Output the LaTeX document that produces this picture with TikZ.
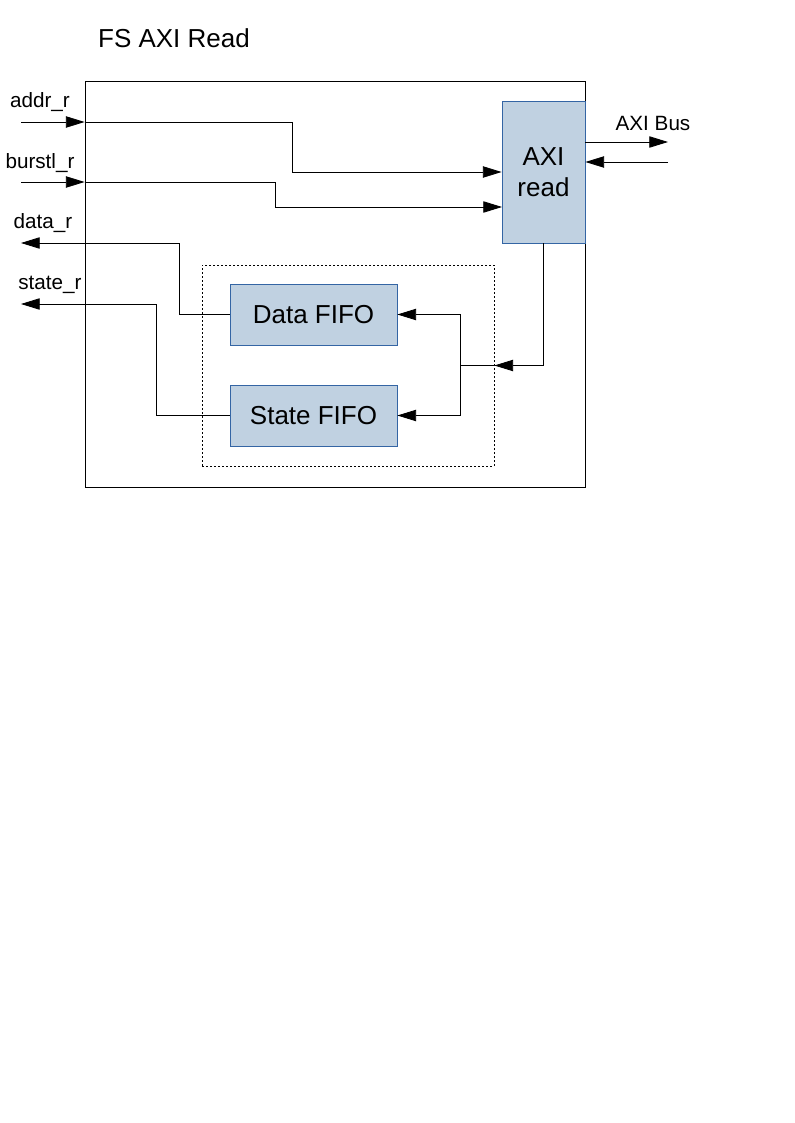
\documentclass[tikz,border=0pt]{standalone}
\usepackage{fontspec}
\setmainfont{Liberation Sans}
\usetikzlibrary{arrows.meta}
\definecolor{blockfill}{RGB}{192,209,225}
\definecolor{blockline}{RGB}{52,101,164}

\begin{document}
\begin{tikzpicture}[x=0.75pt,y=-0.75pt,line width=0.6pt,
  >={Triangle[length=14pt,width=8.5pt]},
  block/.style={rectangle,draw=blockline,fill=blockfill,inner sep=0pt,
    font=\fontsize{19.5}{23}\selectfont,align=center},
  port/.style={font=\fontsize{15.5}{18}\selectfont}]
\useasboundingbox (0,0) rectangle (794,1123);
\node[font=\fontsize{19.5}{23}\selectfont](title) at (174,38){FS AXI Read};
\node[rectangle,draw = black,minimum width=375pt,minimum height=304.5pt](fsread) at (335,284){};
\node[block,minimum width=62.25pt,minimum height=106.5pt](axiread) at (543.5,172){AXI\\read};
\node[rectangle,draw = black,dash pattern=on 1.5pt off 1.5pt,minimum width=219pt,minimum height=150.75pt](fifos) at (348,365.5){};
\node[block,minimum width=125.25pt,minimum height=45.75pt](datafifo) at (313.5,314.5){Data FIFO};
\node[block,minimum width=125.25pt,minimum height=45.75pt](statefifo) at (313.5,415.5){State FIFO};

\node[port](addrlbl) at (40,102){addr\_r};
\node[port](burstlbl) at (40,163){burstl\_r};
\node[port](datalbl) at (43,223){data\_r};
\node[port](statelbl) at (50,285){state\_r};
\node[port](buslbl) at (653,123){AXI Bus};

\coordinate (addrin) at (21,122);
\coordinate (burstin) at (21,182);
\coordinate (dataout) at (21,243);
\coordinate (stateout) at (21,304);
\coordinate (busout) at (668,142);
\coordinate (busin) at (668,162);
\coordinate (burstend) at (502,207);

\draw[->](addrin)--(addrin -| fsread.west);
\draw[->](addrin -| fsread.west)--++(208,0)|-(axiread.west);
\draw[->](burstin)--(burstin -| fsread.west);
\draw[->](burstin -| fsread.west)--++(191,0)|-(burstend);

\draw[->](datafifo.west)--++(-50,0)|-(dataout);
\draw[->](statefifo.west)--++(-73,0)|-(stateout);

\draw[->](axiread.south)|-(fifos.east);
\draw(fifos.east)--++(-34,0)coordinate(split);
\draw[->](split)|-(datafifo.east);
\draw[->](split)|-(statefifo.east);

\draw[->](axiread.east |- busout)--(busout);
\draw[->](busin)--(axiread.east |- busin);
\end{tikzpicture}
\end{document}
